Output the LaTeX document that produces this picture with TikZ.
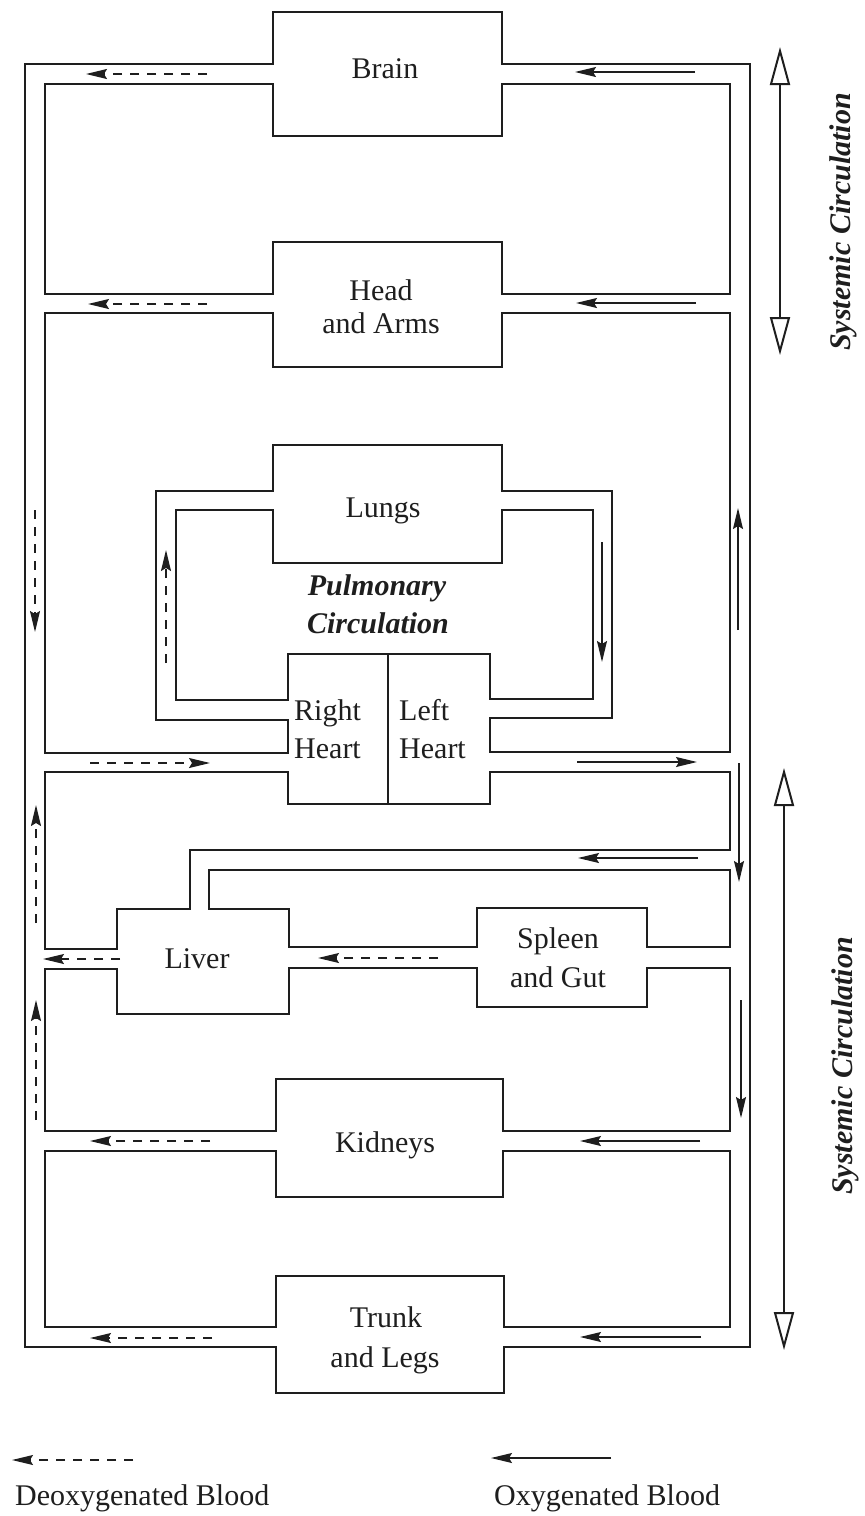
\documentclass[tikz,border=0pt]{standalone}
\usepackage{fontspec}
\setmainfont{Liberation Serif}
\usetikzlibrary{arrows.meta}
\definecolor{ink}{RGB}{30,30,30}
\begin{document}
\begin{tikzpicture}[x=1pt,y=-1pt,
  wall/.style={draw=ink,line width=2.2pt,line join=miter},
  flow/.style={draw=ink,line width=1.3pt,-{Stealth[length=21pt,width=10pt,inset=3pt]}},
  deox/.style={flow,dash pattern=on 9pt off 8pt},
  sysarrow/.style={draw=ink,line width=2pt,{Triangle[open,length=38pt,width=20pt]}-{Triangle[open,length=38pt,width=20pt]}},
  lbl/.style={text=ink,font=\fontsize{30}{36}\selectfont,inner sep=0pt,anchor=base},
  blbl/.style={text=ink,font=\fontsize{30}{36}\selectfont\bfseries\itshape,inner sep=0pt}]
\useasboundingbox (0,0) rectangle (865,1516);

% outer loop (brain top, trunk bottom)
\draw[wall] (273,64) -- (273,12) -- (502,12) -- (502,64) -- (750,64) -- (750,1347)
  -- (504,1347) -- (504,1393) -- (276,1393) -- (276,1347) -- (25,1347) -- (25,64) -- cycle;
% brain / head loop
\draw[wall] (273,84) -- (273,136) -- (502,136) -- (502,84) -- (730,84) -- (730,294)
  -- (502,294) -- (502,242) -- (273,242) -- (273,294) -- (45,294) -- (45,84) -- cycle;
% head / lungs / heart loop
\draw[wall] (273,313) -- (273,367) -- (502,367) -- (502,313) -- (730,313) -- (730,752)
  -- (490,752) -- (490,718) -- (612,718) -- (612,491) -- (502,491) -- (502,445)
  -- (273,445) -- (273,491) -- (156,491) -- (156,720) -- (288,720) -- (288,753)
  -- (45,753) -- (45,313) -- cycle;
% inner pulmonary loop
\draw[wall] (273,510) -- (273,563) -- (502,563) -- (502,510) -- (593,510) -- (593,699)
  -- (490,699) -- (490,654) -- (288,654) -- (288,700) -- (176,700) -- (176,510) -- cycle;
\draw[wall] (388,654) -- (388,804);
% heart bottom / liver loop
\draw[wall] (288,772) -- (288,804) -- (490,804) -- (490,772) -- (730,772) -- (730,850)
  -- (190,850) -- (190,909) -- (117,909) -- (117,949) -- (45,949) -- (45,772) -- cycle;
% hepatic artery / spleen loop
\draw[wall] (209,870) -- (730,870) -- (730,947) -- (647,947) -- (647,908) -- (477,908)
  -- (477,947) -- (289,947) -- (289,909) -- (209,909) -- cycle;
% liver / spleen / kidneys loop
\draw[wall] (45,969) -- (117,969) -- (117,1014) -- (289,1014) -- (289,968) -- (477,968)
  -- (477,1007) -- (647,1007) -- (647,968) -- (730,968) -- (730,1131) -- (503,1131)
  -- (503,1079) -- (276,1079) -- (276,1131) -- (45,1131) -- cycle;
% kidneys / trunk loop
\draw[wall] (276,1151) -- (276,1197) -- (503,1197) -- (503,1151) -- (730,1151) -- (730,1327)
  -- (504,1327) -- (504,1276) -- (276,1276) -- (276,1327) -- (45,1327) -- (45,1151) -- cycle;

% labels
\node[lbl] (brain) at (385,78) {Brain};
\node[lbl] (head) at (381,300) {Head};
\node[lbl] (arms) at (381,333) {and Arms};
\node[lbl] (lungs) at (383,517) {Lungs};
\node[blbl,anchor=base] (pulm) at (377,595) {Pulmonary};
\node[blbl,anchor=base] (pcirc) at (378,633) {Circulation};
\node[lbl,anchor=base west] (rheart1) at (294,720) {Right};
\node[lbl,anchor=base west] (rheart2) at (294,758) {Heart};
\node[lbl,anchor=base west] (lheart1) at (399,720) {Left};
\node[lbl,anchor=base west] (lheart2) at (399,758) {Heart};
\node[lbl] (liver) at (197,968) {Liver};
\node[lbl] (spleen) at (558,948) {Spleen};
\node[lbl] (gut) at (558,987) {and Gut};
\node[lbl] (kidneys) at (385,1152) {Kidneys};
\node[lbl] (trunk) at (386,1327) {Trunk};
\node[lbl] (legs) at (385,1367) {and Legs};
\node[lbl,anchor=base west] (deoxtxt) at (15,1505) {Deoxygenated Blood};
\node[lbl,anchor=base west] (oxtxt) at (494,1505) {Oxygenated Blood};
\node[blbl,rotate=90] (sys1) at (843,222) {Systemic Circulation};
\node[blbl,rotate=90] (sys2) at (845,1066) {Systemic Circulation};

% deoxygenated flow
\draw[deox] (207,74) -- (86,74);
\draw[deox] (207,304) -- (88,304);
\draw[deox] (35,510) -- (35,632);
\draw[deox] (166,663) -- (166,550);
\draw[deox] (90,763) -- (210,763);
\draw[deox] (36,923) -- (36,805);
\draw[deox] (120,959) -- (43,959);
\draw[deox] (438,958) -- (318,958);
\draw[deox] (36,1120) -- (36,1000);
\draw[deox] (210,1141) -- (90,1141);
\draw[deox] (212,1338) -- (90,1338);
\draw[deox] (133,1460) -- (12,1460);

% oxygenated flow
\draw[flow] (695,72) -- (575,72);
\draw[flow] (696,303) -- (576,303);
\draw[flow] (602,542) -- (602,662);
\draw[flow] (738,630) -- (738,508);
\draw[flow] (577,762) -- (697,762);
\draw[flow] (739,763) -- (739,882);
\draw[flow] (698,858) -- (578,858);
\draw[flow] (741,1000) -- (741,1118);
\draw[flow] (700,1141) -- (580,1141);
\draw[flow] (701,1337) -- (580,1337);
\draw[flow] (611,1458) -- (491,1458);

% systemic circulation extents
\draw[sysarrow] (780,47) -- (780,355);
\draw[sysarrow] (784,768) -- (784,1350);
\end{tikzpicture}
\end{document}
